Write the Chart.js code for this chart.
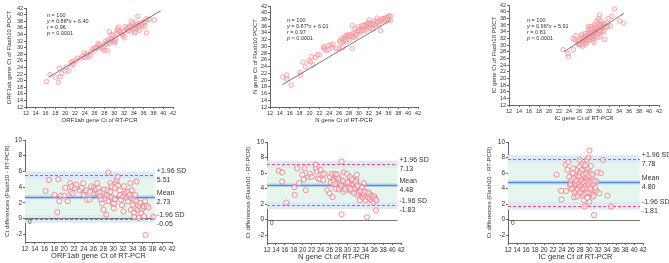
<!DOCTYPE html>
<html>
<head>
<meta charset="utf-8">
<script src="https://cdn.jsdelivr.net/npm/chart.js@4.4.1/dist/chart.umd.min.js"></script>
<style>
html, body { margin: 0; padding: 0; background: #fff; }
.panel { position: absolute; }
</style>
</head>
<body>
<div class="panel" style="left:0;top:0;width:223px;height:130px"><canvas id="top0"></canvas></div>
<div class="panel" style="left:223px;top:0;width:223px;height:130px"><canvas id="top1"></canvas></div>
<div class="panel" style="left:446px;top:0;width:223px;height:130px"><canvas id="top2"></canvas></div>
<div class="panel" style="left:0;top:130px;width:223px;height:133px"><canvas id="ba0"></canvas></div>
<div class="panel" style="left:223px;top:130px;width:223px;height:133px"><canvas id="ba1"></canvas></div>
<div class="panel" style="left:446px;top:130px;width:223px;height:133px"><canvas id="ba2"></canvas></div>
<script>
// RT-PCR Ct and difference (Flash10 - RT-PCR)
const orfRt = [16.2,16.9,18.0,18.6,18.8,19.0,19.3,20.2,20.7,21.2,
               21.3,21.5,21.7,22.2,23.2,23.6,23.9,24.3,24.5,24.7,
               25.2,25.3,25.5,26.0,26.1,26.3,26.5,26.7,26.9,27.2,
               27.3,27.5,27.7,28.0,28.2,28.4,28.4,28.6,28.7,28.8,
               29.0,29.0,29.2,29.4,29.4,29.7,29.7,29.9,30.1,30.2,
               30.3,30.4,30.6,30.7,30.9,31.3,31.4,31.6,31.8,32.0,
               32.1,32.2,32.5,32.7,32.8,33.0,33.1,33.3,33.5,33.6,
               33.7,33.8,34.0,34.2,34.2,34.3,34.5,34.5,34.7,34.8,
               35.0,35.0,35.2,35.4,35.5,35.7,35.9,36.1,36.3,36.3,
               36.5,36.6,36.9,37.2,38.2,20.0,22.5,27.0,31.0,24.0];
const orfDiff = [3.5,4.9,3.0,0.8,5.0,2.2,2.9,3.9,2.2,4.5,
                 3.4,4.1,3.2,3.9,3.6,3.9,4.5,3.4,3.6,2.4,
                 2.4,3.4,4.1,3.9,3.2,3.6,3.7,4.5,3.2,3.4,
                 2.8,2.4,1.9,1.1,3.7,2.9,2.6,0.5,3.0,3.6,
                 2.2,5.85,2.8,3.4,4.5,2.7,4.1,1.9,1.3,1.9,
                 2.5,3.9,4.5,4.9,5.3,3.6,3.0,2.4,1.7,2.8,
                 0.9,4.1,3.2,2.6,3.4,2.2,3.4,3.0,4.5,1.1,
                 2.6,3.6,1.7,2.4,0.7,0.2,3.0,1.3,2.2,4.7,
                 1.1,1.7,0.05,1.5,2.0,0.7,1.2,1.6,1.5,0.3,
                 2.2,-2.1,1.6,1.4,0.2,2.9,4.3,3.9,4.2,3.0];

const nRt = [14.6,15.4,15.4,16.3,18.1,18.2,18.7,19.2,19.9,20.2,
             20.4,20.7,21.2,21.6,22.0,22.9,22.9,23.1,23.4,23.8,
             24.0,24.4,24.6,24.8,25.5,26.0,26.1,26.5,26.7,26.8,
             27.0,27.2,27.4,27.6,27.7,27.9,28.1,28.3,28.5,28.7,
             28.7,28.9,29.1,29.2,29.4,29.7,29.9,30.2,30.4,30.5,
             30.6,30.9,31.1,31.3,31.4,31.7,31.9,32.0,32.1,32.2,
             32.4,32.6,32.8,33.0,33.2,33.4,33.5,33.7,33.9,34.1,
             34.3,34.4,34.6,34.9,35.0,35.2,35.4,35.6,35.8,36.0,
             36.2,36.4,36.5,26.3,26.9,27.3,28.0,28.6,29.0,29.5,
             30.0,30.7,31.0,31.5,31.8,32.3,32.9,33.3,33.8,34.7];
const nDiff = [6.3,6.1,4.9,2.2,4.2,3.2,6.6,4.7,5.8,5.2,
               6.6,3.8,5.5,5.9,5.5,6.6,7.1,6.2,5.3,5.2,
               6.4,5.9,5.1,5.9,3.8,3.4,5.5,5.9,2.9,4.5,
               5.3,5.9,4.0,5.5,5.8,4.9,3.9,4.7,5.1,7.5,
               0.7,4.0,3.6,6.1,4.2,4.7,5.9,4.2,4.9,3.8,
               5.5,4.5,3.7,5.1,4.5,4.0,4.7,5.1,5.8,3.2,
               4.2,3.5,2.5,4.0,3.2,2.9,3.3,4.7,3.2,2.5,
               3.5,0.3,2.9,3.3,2.7,3.2,2.5,2.9,2.2,3.0,
               2.7,1.2,2.5,4.8,5.0,4.6,5.3,4.4,5.0,3.9,
               4.8,4.0,5.2,3.4,4.9,4.4,3.7,4.2,3.6,3.5];

const icRt = [22.8,23.8,23.9,24.9,24.8,25.2,25.4,25.6,25.8,25.9,
              26.1,26.4,26.4,26.7,26.7,26.9,27.1,27.1,27.3,27.4,
              27.6,27.6,27.9,27.9,28.0,28.2,28.2,28.4,28.4,28.6,
              28.8,28.8,28.9,29.0,29.1,29.1,29.3,29.3,29.5,29.5,
              29.6,29.7,29.9,29.9,30.1,30.1,30.1,30.2,30.2,30.4,
              30.6,30.6,30.8,31.1,31.7,31.7,31.9,32.3,32.6,33.1,
              34.1,34.9,26.2,26.6,26.8,27.0,27.2,27.5,27.7,27.8,
              28.0,28.1,28.3,28.5,28.6,28.7,28.9,29.0,29.2,29.3,
              29.4,29.6,29.7,29.8,30.0,30.0,30.3,30.5,30.7,30.9,
              31.2,31.4,27.9,28.4,29.1,26.5,30.4,31.0,27.4,29.6];
const icDiff = [5.8,3.7,2.6,3.7,7.1,6.4,7.4,5.5,4.4,4.6,
                5.1,3.9,6.0,2.9,4.2,4.9,3.7,6.4,5.5,4.4,
                3.2,5.1,4.1,7.7,6.0,4.7,3.7,7.1,5.3,4.2,
                3.2,4.9,2.5,1.7,4.1,6.4,4.7,5.5,3.7,7.7,
                5.1,6.6,4.3,8.0,8.9,5.1,2.3,6.0,4.7,3.4,
                4.3,5.3,3.2,0.6,4.9,3.7,6.1,3.4,6.0,7.7,
                3.1,1.7,4.0,5.3,3.5,4.6,5.0,3.9,4.6,5.6,
                3.5,4.3,5.0,3.9,4.6,5.8,4.0,4.8,3.4,4.4,
                5.9,4.0,4.8,3.5,4.5,5.6,4.0,4.8,5.8,4.6,
                5.0,4.1,6.8,6.4,7.0,6.6,6.9,3.0,3.0,2.8];

// regression (slope, intercept), r, and x-range of the fitted line
const orfFit = [0.88, 6.40], nFit = [0.87, 6.01], icFit = [0.96, 5.91];
const orfR = '0.96', nR = '0.97', icR = '0.81';
const orfFitX = [16.7, 39.5], nFitX = [14.5, 36.5], icFitX = [23.0, 35.0];

// Bland-Altman: upper LoA, mean, lower LoA; CI half-widths; label texts
const orfBA = [5.51, 2.73, -0.05], nBA = [7.13, 4.48, 1.83], icBA = [7.78, 4.80, 1.81];
const orfCI = [0.48, 0.28], nCI = [0.46, 0.26], icCI = [0.52, 0.30];
const orfBALabels = ['5.51', '2.73', '-0.05'];
const nBALabels = ['7.13', '4.48', '-1.83'];
const icBALabels = ['7.78', '4.80', '-1.81'];
const baNames = ['+1.96 SD', 'Mean', '-1.96 SD'];
const axisTicks = [12, 42, 2];

const FONT = "'Liberation Sans', Arial, sans-serif";
const TXT = '#333';

const decor = {
    id: 'decor',
    beforeDatasetsDraw(chart, args, o) {
        if (o.kind !== 'ba') return;
        const ctx = chart.ctx, a = chart.chartArea, x = chart.scales.x, y = chart.scales.y;
        const x0 = a.left, x1 = x.getPixelForValue(o.bandEnd);
        const band = (lo, hi, col) => {
            const yt = y.getPixelForValue(hi), yb = y.getPixelForValue(lo);
            ctx.fillStyle = col;
            ctx.fillRect(x0, yt, x1 - x0, yb - yt);
        };
        const line = (v, col, w, dash) => {
            const py = Math.round(y.getPixelForValue(v)) + 0.5;
            ctx.strokeStyle = col; ctx.lineWidth = w; ctx.setLineDash(dash);
            ctx.beginPath(); ctx.moveTo(x0, py); ctx.lineTo(x1, py); ctx.stroke();
        };
        const [up, mean, lo] = o.ba, [ci, mci] = o.ci;
        ctx.save();
        band(lo + ci, up - ci, '#e7f6ec');
        band(up - ci, up + ci, '#dde9f8');
        band(lo - ci, lo + ci, '#dde9f8');
        band(mean - mci, mean + mci, '#cfe0f6');
        line(0, '#777', 1, []);
        line(up, '#e9566c', 1, [3, 2]);
        line(lo, '#e9566c', 1, [3, 2]);
        line(mean, '#4d8fdc', 1.6, []);
        ctx.restore();
    },
    afterDraw(chart, args, o) {
        const ctx = chart.ctx, a = chart.chartArea, x = chart.scales.x, y = chart.scales.y;
        ctx.save();
        ctx.fillStyle = TXT;
        ctx.textBaseline = 'middle';
        ctx.textAlign = 'left';
        if (o.kind === 'ba') {
            const lx = x.getPixelForValue(o.bandEnd) + 2;
            ctx.font = '7px ' + FONT;
            o.ba.forEach((v, i) => {
                const py = y.getPixelForValue(v);
                ctx.fillText(baNames[i], lx, py - 4);
                ctx.fillText(o.labels[i], lx, py + 5);
            });
            ctx.font = '6.5px ' + FONT;
            ctx.fillText('0', a.left + 3, y.getPixelForValue(-0.45));
        } else {
            const lines = [
                [['n', true], [' = 100', false]],
                [['y', true], [' = ' + o.fit[0].toFixed(2) + '*', false], ['x', true], [' + ' + o.fit[1].toFixed(2), false]],
                [['r', true], [' = ' + o.r, false]],
                [['p', true], [' < 0.0001', false]]
            ];
            lines.forEach((parts, i) => {
                let px = a.left + o.tx;
                const py = a.top + o.ty + i * 6.3;
                parts.forEach(([t, it]) => {
                    ctx.font = (it ? 'italic ' : '') + '5.5px ' + FONT;
                    ctx.fillText(t, px, py);
                    px += ctx.measureText(t).width;
                });
            });
        }
        ctx.restore();
    }
};

function axis(min, max, step, fontSize, title, titleSize, fitSize, isY, bounds) {
    return {
        type: 'linear',
        min: min, max: max,
        afterFit: s => { if (isY) s.width = fitSize; else s.height = fitSize; },
        ticks: { stepSize: step, includeBounds: bounds, color: TXT, padding: 1,
                 autoSkip: false, maxRotation: 0, minRotation: 0,
                 font: { family: FONT, size: fontSize } },
        grid: { display: true, drawOnChartArea: false, tickLength: 2, color: '#666' },
        border: { color: '#666', width: 1 },
        title: { display: true, text: title, color: TXT, padding: 0,
                 font: { family: FONT, size: titleSize } }
    };
}

function makeScatter(id, rt, diff, fit, fitX, r, name, L, T, R, B, yW) {
    const pts = rt.map((v, i) => ({ x: v, y: +(v + diff[i]).toFixed(2) }));
    const lineData = fitX.map(v => ({ x: v, y: fit[0] * v + fit[1] }));
    const W = 223, H = 130, xH = 17;
    new Chart(document.getElementById(id), {
        type: 'scatter',
        data: {
            datasets: [
                { data: lineData, type: 'line', showLine: true, borderColor: '#6b6b6b', borderWidth: 0.9,
                  pointRadius: 0, order: 0 },
                { data: pts, pointRadius: 2.3, pointBorderWidth: 0.8,
                  borderColor: 'rgba(240,140,150,0.85)', backgroundColor: 'rgba(250,205,210,0.35)', order: 1 }
            ]
        },
        options: {
            responsive: true, maintainAspectRatio: false, animation: false,
            layout: { padding: { left: L - yW, top: T, right: W - R, bottom: H - B - xH } },
            plugins: { legend: { display: false }, tooltip: { enabled: false },
                       decor: { kind: 'scatter', fit: fit, r: r, tx: name.tx, ty: name.ty } },
            scales: {
                x: axis(axisTicks[0], axisTicks[1], axisTicks[2], 5.5, name.g + ' gene Ct of RT-PCR', 6, xH, false, true),
                y: axis(axisTicks[0], axisTicks[1], axisTicks[2], 5.5, name.g + ' gene Ct of Flash10 POCT', 6, yW, true, true)
            }
        },
        plugins: [decor]
    });
}

function makeBA(id, rt, diff, ba, ci, labels, g, bandEnd, L, T, R, B, yW) {
    const pts = rt.map((v, i) => ({ x: v, y: diff[i] }));
    const W = 223, H = 133, xH = 18;
    new Chart(document.getElementById(id), {
        type: 'scatter',
        data: {
            datasets: [
                { data: pts, pointRadius: 2.6, pointBorderWidth: 0.9,
                  borderColor: 'rgba(236,120,135,0.9)', backgroundColor: 'rgba(255,240,242,0.55)' }
            ]
        },
        options: {
            responsive: true, maintainAspectRatio: false, animation: false,
            layout: { padding: { left: L - yW, top: T, right: W - R, bottom: H - B - xH } },
            plugins: { legend: { display: false }, tooltip: { enabled: false },
                       decor: { kind: 'ba', ba: ba, ci: ci, labels: labels, bandEnd: bandEnd } },
            scales: {
                x: axis(axisTicks[0], axisTicks[1], axisTicks[2], 6.5, g + ' gene Ct of RT-PCR', 7.5, xH, false, true),
                y: axis(-3, 10, 2, 6.5, 'Ct differences (Flash10 - RT-PCR)', 6, yW, true, false)
            }
        },
        plugins: [decor]
    });
}

makeScatter('top0', orfRt, orfDiff, orfFit, orfFitX, orfR, { g: 'ORF1ab', tx: 21, ty: 7 }, 26, 8, 173, 107, 20);
makeScatter('top1', nRt, nDiff, nFit, nFitX, nR, { g: 'N', tx: 17, ty: 14 }, 47, 6, 195, 107, 18);
makeScatter('top2', icRt, icDiff, icFit, icFitX, icR, { g: 'IC', tx: 18, ty: 15 }, 63, 5, 213, 105, 18);

makeBA('ba0', orfRt, orfDiff, orfBA, orfCI, orfBALabels, 'ORF1ab', 38.5, 25, 10, 172, 112, 21);
makeBA('ba1', nRt, nDiff, nBA, nCI, nBALabels, 'N', 41.2, 44, 12, 178, 113, 22);
makeBA('ba2', icRt, icDiff, icBA, icCI, icBALabels, 'IC', 41.3, 62, 12, 197, 113, 22);
</script>
</body>
</html>
